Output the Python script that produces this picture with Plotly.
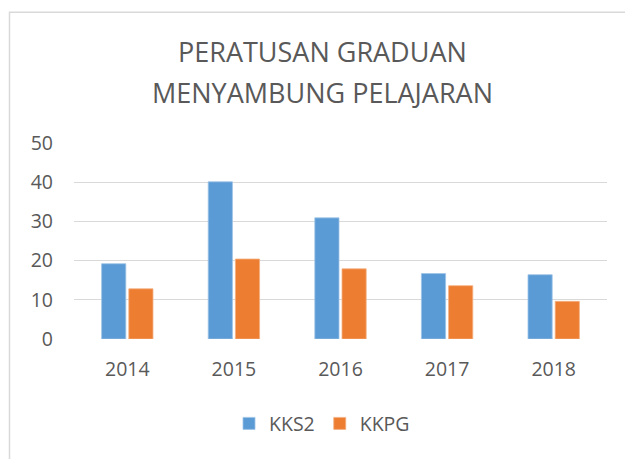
import plotly.graph_objects as go

years = ["2014", "2015", "2016", "2017", "2018"]
kks2 = [19.2, 40.1, 30.9, 16.7, 16.4]
kkpg = [12.8, 20.4, 17.9, 13.6, 9.6]
series_names = ["KKS2", "KKPG"]
title_lines = ["PERATUSAN GRADUAN", "MENYAMBUNG PELAJARAN"]

W, H = 625, 459
L, R, T, B = 74, 607, 143.3, 339.3
pw, ph = R - L, B - T

def px(x):
    return (x - L) / pw

def py(y):
    return (B - y) / ph

FONT = "Open Sans"
GREY = "#595959"
TICK = 19.5

fig = go.Figure()
fig.add_trace(go.Bar(x=years, y=kks2, name=series_names[0],
                     marker=dict(color="#5B9BD5", line=dict(color="#9dc3e6", width=0.8))))
fig.add_trace(go.Bar(x=years, y=kkpg, name=series_names[1],
                     marker=dict(color="#ED7D31", line=dict(color="#f4b183", width=0.8))))

fig.update_layout(
    width=W, height=H,
    margin=dict(l=L, r=W - R, t=T, b=H - B, pad=0),
    paper_bgcolor="white", plot_bgcolor="white",
    barmode="group", bargap=0.49, bargroupgap=0.11,
    font=dict(family=FONT, color=GREY, size=TICK),
    showlegend=True,
    legend=dict(orientation="h", x=px(322), y=py(424), xanchor="center", yanchor="middle",
                font=dict(size=TICK, color=GREY, family=FONT), itemwidth=30,
                bgcolor="rgba(0,0,0,0)"),
)
fig.update_yaxes(range=[0, 50], dtick=10, showgrid=True, gridcolor="#d9d9d9", gridwidth=1.3,
                 zeroline=False, showline=False, ticks="", ticklabelstandoff=20,
                 tickfont=dict(size=TICK, color=GREY, family=FONT), fixedrange=True)
fig.update_xaxes(showgrid=False, showline=False, ticks="", ticklabelstandoff=16,
                 tickfont=dict(size=TICK, color=GREY, family=FONT), fixedrange=True)

for line, yc in zip(title_lines, [52, 93]):
    fig.add_annotation(text=line, xref="paper", yref="paper", x=px(322), y=py(yc),
                       xanchor="center", yanchor="middle", showarrow=False,
                       font=dict(family=FONT, size=27, color=GREY))

fig.add_shape(type="rect", xref="paper", yref="paper",
              x0=px(9.5), x1=px(660), y0=py(480), y1=py(12.5),
              line=dict(color="#d9d9d9", width=1.5), layer="below")

fig.write_html("out.html", config={"displayModeBar": False},
               post_script="document.body.style.margin='0';document.body.style.padding='0';")
